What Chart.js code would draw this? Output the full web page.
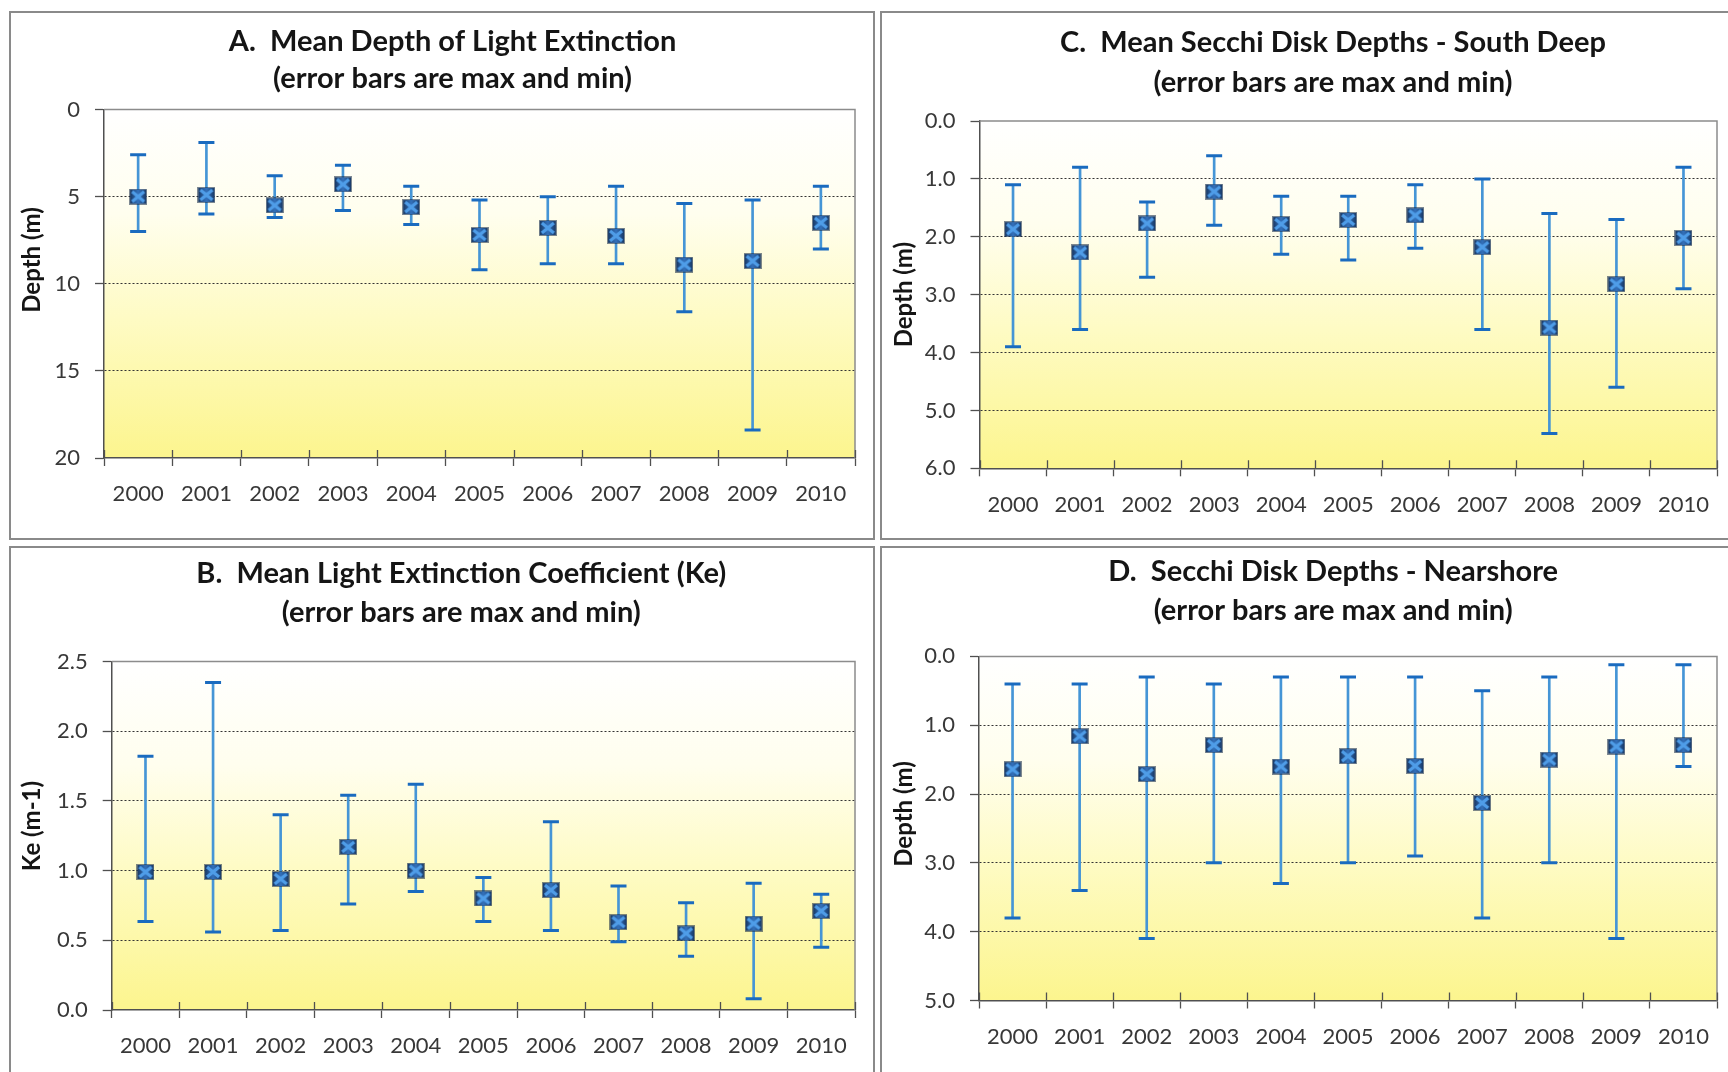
<!DOCTYPE html>
<html>
<head>
<meta charset="utf-8">
<script src="https://cdn.jsdelivr.net/npm/chart.js@4.4.1/dist/chart.umd.min.js"></script>
<style>
  html, body { margin: 0; padding: 0; background: #fff; width: 1728px; height: 1072px; overflow: hidden; }
  .panel { position: absolute; border: 2px solid #8a8a8a; box-sizing: border-box; background: #fff; }
  canvas { position: absolute; }
</style>
</head>
<body>
<div class="panel" style="left:9px;top:11px;width:866px;height:529px"></div>
<div class="panel" style="left:880px;top:11px;width:900px;height:529px"></div>
<div class="panel" style="left:9px;top:546px;width:866px;height:600px"></div>
<div class="panel" style="left:880px;top:546px;width:900px;height:600px"></div>

<canvas id="chartA" width="862" height="525" style="left:11px;top:13px"></canvas>
<canvas id="chartC" width="846" height="525" style="left:882px;top:13px"></canvas>
<canvas id="chartB" width="862" height="524" style="left:11px;top:548px"></canvas>
<canvas id="chartD" width="846" height="524" style="left:882px;top:548px"></canvas>

<script>
// Survey years (category axis)
const years = ['2000', '2001', '2002', '2003', '2004', '2005', '2006', '2007', '2008', '2009', '2010'];

// A. Depth of light extinction (m): mean, shallowest, deepest
const extDepthMean = [5.0, 4.9, 5.5, 4.3, 5.6, 7.2, 6.8, 7.25, 8.9, 8.7, 6.5];
const extDepthMin  = [2.6, 1.9, 3.8, 3.2, 4.4, 5.2, 5.0, 4.4, 5.4, 5.2, 4.4];
const extDepthMax  = [7.0, 6.0, 6.2, 5.8, 6.6, 9.2, 8.85, 8.85, 11.6, 18.4, 8.0];

// B. Light extinction coefficient Ke (m-1)
const keMean = [0.99, 0.99, 0.94, 1.17, 1.00, 0.80, 0.86, 0.63, 0.55, 0.62, 0.71];
const keMin  = [0.635, 0.56, 0.57, 0.76, 0.85, 0.635, 0.57, 0.49, 0.385, 0.08, 0.45];
const keMax  = [1.82, 2.35, 1.40, 1.54, 1.62, 0.95, 1.35, 0.89, 0.77, 0.91, 0.83];

// C. Secchi disk depth, South Deep (m)
const southMean = [1.87, 2.27, 1.77, 1.22, 1.78, 1.71, 1.63, 2.18, 3.57, 2.82, 2.02];
const southMin  = [1.1, 0.8, 1.4, 0.6, 1.3, 1.3, 1.1, 1.0, 1.6, 1.7, 0.8];
const southMax  = [3.9, 3.6, 2.7, 1.8, 2.3, 2.4, 2.2, 3.6, 5.4, 4.6, 2.9];

// D. Secchi disk depth, nearshore (m)
const nearMean = [1.64, 1.16, 1.71, 1.29, 1.60, 1.45, 1.59, 2.13, 1.50, 1.31, 1.29];
const nearMin  = [0.4, 0.4, 0.3, 0.4, 0.3, 0.3, 0.3, 0.5, 0.3, 0.12, 0.12];
const nearMax  = [3.8, 3.4, 4.1, 3.0, 3.3, 3.0, 2.9, 3.8, 3.0, 4.1, 1.6];

// Titles and axis ranges [min, max, step]
const titleA = ['A.  Mean Depth of Light Extinction', '(error bars are max and min)'];
const titleB = ['B.  Mean Light Extinction Coefficient (Ke)', '(error bars are max and min)'];
const titleC = ['C.  Mean Secchi Disk Depths - South Deep', '(error bars are max and min)'];
const titleD = ['D.  Secchi Disk Depths - Nearshore', '(error bars are max and min)'];
const rangeA = [0, 20, 5];
const rangeB = [0, 2.5, 0.5];
const rangeC = [0, 6, 1];
const rangeD = [0, 5, 1];

const TICK_TEXT = '#383838';
const AXIS_LINE = '#505050';

// Square-with-cross marker used for the mean values
function makeMarker() {
  const w = 18, h = 16;
  const c = document.createElement('canvas');
  c.width = w; c.height = h;
  const g = c.getContext('2d');
  const grad = g.createLinearGradient(0, 0, w, 0);
  grad.addColorStop(0, '#16335c');
  grad.addColorStop(0.5, '#3472bd');
  grad.addColorStop(1, '#16335c');
  g.fillStyle = grad;
  g.fillRect(1, 1, w - 2, h - 2);
  g.strokeStyle = 'rgba(20,40,70,0.55)';
  g.lineWidth = 1;
  g.strokeRect(0.5, 0.5, w - 1, h - 1);
  g.strokeStyle = '#4f9de8';
  g.lineWidth = 3.2;
  g.beginPath();
  g.moveTo(3, 3); g.lineTo(w - 3, h - 3);
  g.moveTo(w - 3, 3); g.lineTo(3, h - 3);
  g.stroke();
  return c;
}

// Plot-area fill, frame, inner half of the category ticks, the two-line heading
// and the rotated axis caption
const plotFrame = {
  id: 'plotFrame',
  beforeDraw(chart) {
    const { ctx, chartArea: a } = chart;
    const g = ctx.createLinearGradient(0, a.top, 0, a.bottom);
    g.addColorStop(0, '#ffffff');
    g.addColorStop(0.3, '#fffeee');
    g.addColorStop(0.6, '#fefbc4');
    g.addColorStop(1, '#fcf58e');
    ctx.save();
    ctx.fillStyle = g;
    ctx.fillRect(a.left, a.top, a.right - a.left, a.bottom - a.top);
    ctx.restore();
  },
  beforeDatasetsDraw(chart) {
    const { ctx, chartArea: a } = chart;
    const xs = chart.scales.x;
    ctx.save();
    ctx.strokeStyle = '#8c8c8c';
    ctx.lineWidth = 1.5;
    ctx.beginPath();
    ctx.moveTo(a.left, a.top);
    ctx.lineTo(a.right, a.top);
    ctx.lineTo(a.right, a.bottom);
    ctx.stroke();
    ctx.strokeStyle = AXIS_LINE;
    ctx.lineWidth = 1.3;
    ctx.beginPath();
    const n = xs.getLabels().length;
    for (let i = 0; i <= n; i++) {
      const x = Math.round(xs.getPixelForValue(i - 0.5)) + 0.5;
      ctx.moveTo(x, a.bottom);
      ctx.lineTo(x, a.bottom - 8);
    }
    ctx.stroke();
    ctx.restore();
  },
  afterDraw(chart, args, opts) {
    const ctx = chart.ctx;
    ctx.save();
    ctx.fillStyle = '#151515';
    ctx.textAlign = 'center';
    ctx.textBaseline = 'middle';
    if (opts.heading) {
      ctx.font = 'bold 29px Lato';
      opts.heading.forEach((line, i) => ctx.fillText(line, opts.cx, opts.y1 + i * opts.dy));
    }
    if (opts.side) {
      ctx.translate(opts.sx, opts.sy);
      ctx.rotate(-Math.PI / 2);
      ctx.font = 'bold 24px Lato';
      ctx.fillText(opts.side, 0, 0);
    }
    ctx.restore();
  }
};

function buildChart(id, cfg) {
  const last = Math.round((cfg.range[1] - cfg.range[0]) / cfg.range[2]);
  const marker = makeMarker();
  return new Chart(document.getElementById(id), {
    type: 'line',
    data: {
      labels: years,
      datasets: [
        {
          label: 'mean', data: cfg.mean, showLine: false,
          pointStyle: marker, pointRadius: 9, pointHoverRadius: 9
        },
        {
          label: 'max', data: cfg.hi, showLine: false,
          pointStyle: 'line', pointRadius: 8, pointHoverRadius: 8,
          pointBorderWidth: 3, pointBorderColor: '#1a6bbf', pointBackgroundColor: '#1a6bbf'
        },
        {
          label: 'min', data: cfg.lo, showLine: false,
          pointStyle: 'line', pointRadius: 8, pointHoverRadius: 8,
          pointBorderWidth: 3, pointBorderColor: '#1a6bbf', pointBackgroundColor: '#1a6bbf'
        },
        {
          type: 'bar', label: 'range',
          data: cfg.lo.map((v, i) => [v, cfg.hi[i]]),
          backgroundColor: '#4595d6', borderWidth: 0, barThickness: 2
        }
      ]
    },
    options: {
      responsive: false,
      animation: false,
      events: [],
      layout: { padding: { left: 0, right: cfg.padR, top: cfg.top, bottom: 0 } },
      plugins: {
        legend: { display: false },
        tooltip: { enabled: false },
        title: { display: false },
        plotFrame: cfg.text
      },
      scales: {
        x: {
          offset: true,
          afterFit(s) { s.height = cfg.xH; s.paddingLeft = 0; s.paddingRight = 0; },
          grid: {
            offset: true, drawOnChartArea: false, drawTicks: true,
            tickLength: 8, tickColor: AXIS_LINE, tickWidth: 1.3
          },
          border: { color: AXIS_LINE, width: 1.5 },
          ticks: {
            color: TICK_TEXT, padding: 15, maxRotation: 0, autoSkip: false,
            font: { family: 'Lato', size: 22 }
          }
        },
        y: {
          reverse: cfg.reverse,
          min: cfg.range[0], max: cfg.range[1],
          afterFit(s) { s.width = cfg.yW; s.paddingTop = 0; s.paddingBottom = 0; },
          afterBuildTicks(s) {
            s.ticks = [];
            for (let k = 0; k <= last; k++) s.ticks.push({ value: cfg.range[0] + k * cfg.range[2] });
          },
          grid: {
            color: (c) => (c.index === 0 || c.index === last) ? 'rgba(0,0,0,0)' : '#333333',
            lineWidth: 1, tickLength: 9, tickColor: AXIS_LINE, tickWidth: 1.3, tickBorderDash: []
          },
          border: { color: AXIS_LINE, width: 1.5, dash: [2, 2] },
          ticks: {
            color: TICK_TEXT, padding: 15,
            font: { family: 'Lato', size: 22 },
            callback: (v) => cfg.decimals ? Number(v).toFixed(cfg.decimals) : String(v)
          }
        }
      }
    },
    plugins: [plotFrame]
  });
}

function drawAll() {
  buildChart('chartA', {
    mean: extDepthMean, lo: extDepthMin, hi: extDepthMax,
    range: rangeA, reverse: true, decimals: 0,
    yW: 93, padR: 18, top: 96.5, xH: 80,
    text: { heading: titleA, cx: 441.6, y1: 28.3, dy: 37.7, side: 'Depth (m)', sx: 21, sy: 247 }
  });
  buildChart('chartC', {
    mean: southMean, lo: southMin, hi: southMax,
    range: rangeC, reverse: true, decimals: 1,
    yW: 97.5, padR: 1.5, top: 108, xH: 69.7,
    text: { heading: titleC, cx: 451, y1: 30, dy: 39.6, side: 'Depth (m)', sx: 22.5, sy: 281.6 }
  });
  buildChart('chartB', {
    mean: keMean, lo: keMin, hi: keMax,
    range: rangeB, reverse: false, decimals: 1,
    yW: 100.7, padR: 18, top: 113.5, xH: 62,
    text: { heading: titleB, cx: 450.3, y1: 26, dy: 39, side: 'Ke (m-1)', sx: 21, sy: 278 }
  });
  buildChart('chartD', {
    mean: nearMean, lo: nearMin, hi: nearMax,
    range: rangeD, reverse: true, decimals: 1,
    yW: 97, padR: 1.5, top: 108.4, xH: 71.5,
    text: { heading: titleD, cx: 451.2, y1: 24, dy: 39, side: 'Depth (m)', sx: 22.5, sy: 266 }
  });
}

if (document.fonts && document.fonts.load) {
  Promise.all([
    document.fonts.load('bold 29px Lato'),
    document.fonts.load('bold 24px Lato'),
    document.fonts.load('22px Lato')
  ]).then(drawAll, drawAll);
} else {
  drawAll();
}
</script>
</body>
</html>
